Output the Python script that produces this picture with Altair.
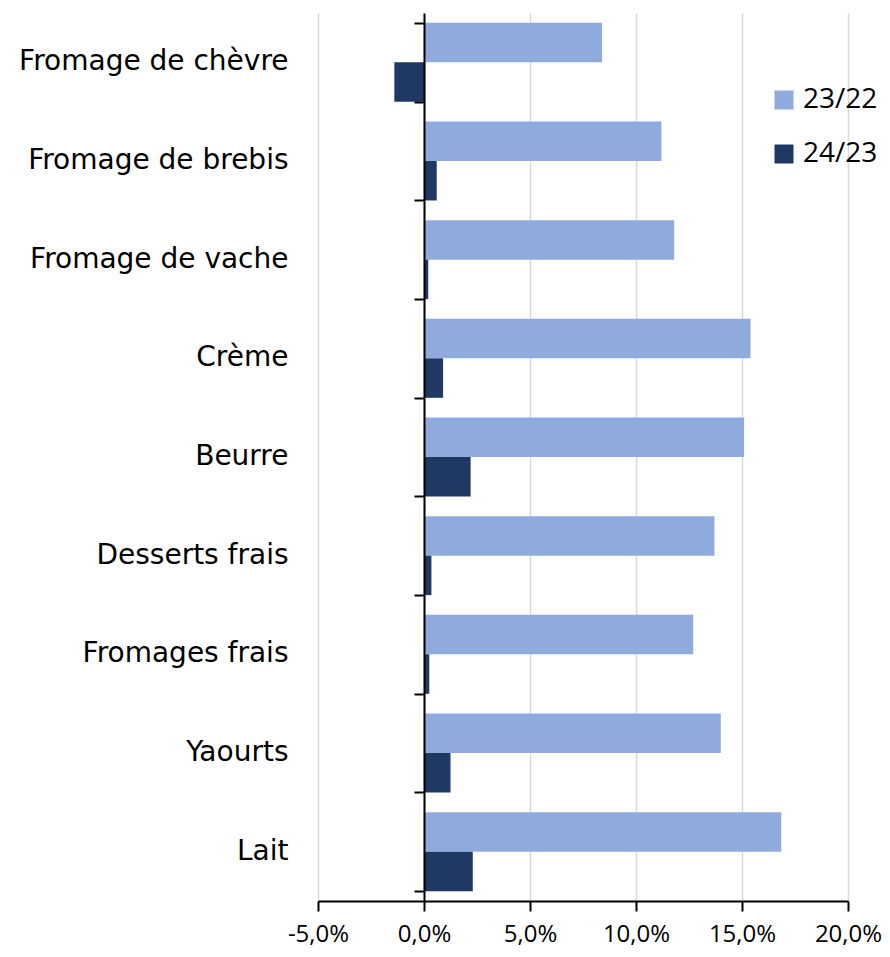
import altair as alt
import pandas as pd

categories = ["Fromage de chèvre", "Fromage de brebis", "Fromage de vache", "Crème",
              "Beurre", "Desserts frais", "Fromages frais", "Yaourts", "Lait"]
series_names = ["23/22", "24/23"]
v_23_22 = [8.4, 11.2, 11.8, 15.4, 15.1, 13.7, 12.7, 14.0, 16.85]
v_24_23 = [-1.4, 0.6, 0.2, 0.9, 2.2, 0.35, 0.25, 1.25, 2.3]
tick_values = [-5, 0, 5, 10, 15, 20]
colors = ["#8FAADC", "#203864"]

rows = []
for c, a, b in zip(categories, v_23_22, v_24_23):
    rows.append({"cat": c, "serie": series_names[0], "val": a})
    rows.append({"cat": c, "serie": series_names[1], "val": b})
df = pd.DataFrame(rows)

x_enc = alt.X(
    "val:Q",
    scale=alt.Scale(domain=[-5, 20], nice=False, zero=False),
    axis=alt.Axis(
        values=tick_values,
        labelExpr="(datum.value < 0 ? '-' : '') + replace(format(abs(datum.value), '.1f'), '.', ',') + '%'",
        grid=True, gridColor="#d9d9d9", gridWidth=1.5,
        domainColor="black", domainWidth=2,
        tickColor="black", tickWidth=2, tickSize=10,
        labelFont="Open Sans", labelFontSize=24, labelColor="black",
        labelPadding=11, labelOverlap=False, labelFlush=False, title=None,
    ),
)

y_scale = alt.Scale(domain=categories, paddingInner=0.2, paddingOuter=0.1)

bars = alt.Chart(df).mark_bar().encode(
    x=x_enc,
    y=alt.Y(
        "cat:N", scale=y_scale,
        axis=alt.Axis(orient="left", title=None, domain=False, ticks=False, tickSize=0,
                      labelPadding=30, labelFont="DejaVu Sans", labelFontSize=28,
                      labelColor="black", labelLimit=0, grid=False),
    ),
    yOffset=alt.YOffset("serie:N", sort=series_names),
    color=alt.Color(
        "serie:N",
        scale=alt.Scale(domain=series_names, range=colors),
        legend=alt.Legend(
            orient="none", legendX=452, legendY=73, title=None,
            symbolType="square", symbolSize=361, symbolStrokeWidth=0,
            labelFont="Open Sans", labelFontSize=28, labelColor="black",
            labelOffset=5, rowPadding=26, padding=0,
        ),
    ),
)

axis_layer = alt.Chart(df).mark_bar(opacity=0).encode(
    x=x_enc,
    y=alt.Y(
        "cat:N", scale=y_scale,
        axis=alt.Axis(orient="left", offset=-106, labels=False, title=None,
                      domain=True, domainColor="black", domainWidth=2,
                      ticks=True, tickBand="extent", tickSize=10, tickColor="black",
                      tickWidth=2, grid=False, zindex=1),
    ),
)

chart = (
    alt.layer(bars, axis_layer)
    .resolve_axis(y="independent")
    .properties(
        width=530, height=888,
        autosize=alt.AutoSizeParams(type="none"),
        padding={"left": 310, "top": 5, "right": 34, "bottom": 46},
        background="white",
    )
    .configure_view(stroke=None)
)

chart.save("out.html", embed_options={"renderer": "svg", "actions": False})
